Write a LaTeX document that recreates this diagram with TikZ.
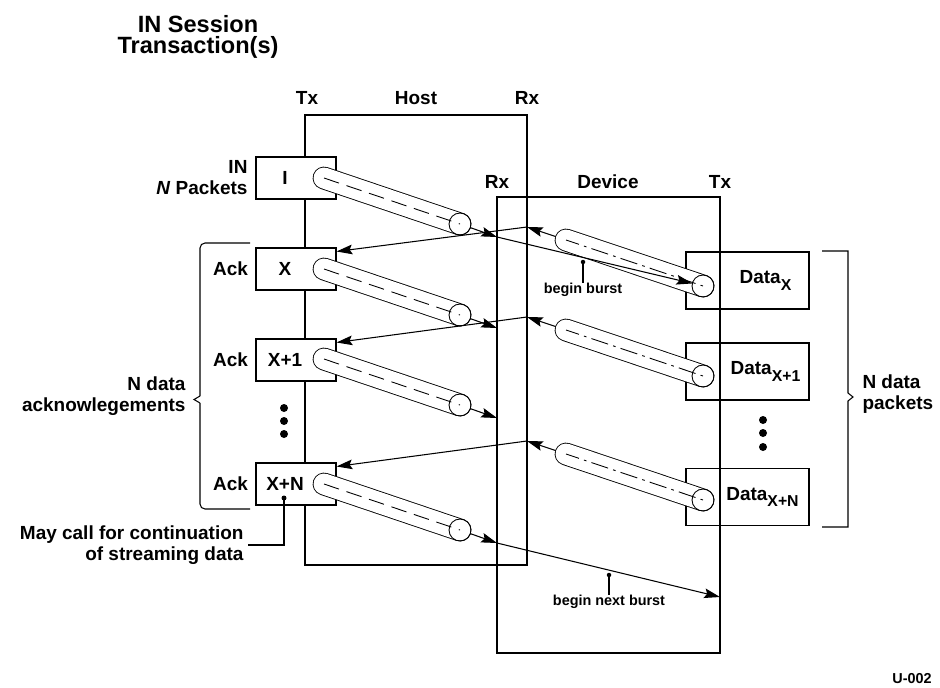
\documentclass[tikz,border=0pt]{standalone}
\usepackage{fontspec}
\setmainfont{Liberation Sans}
\usepackage{tikz}
\usetikzlibrary{calc,positioning,arrows.meta}

\newcommand{\pktsub}[1]{\raisebox{-3.5pt}{\fontsize{9}{9}\selectfont #1}}

\tikzset{
  lbl/.style={font=\fontsize{10.8}{12}\selectfont\bfseries, inner sep=0pt},
  titlelbl/.style={font=\fontsize{13.4}{14}\selectfont\bfseries, inner sep=0pt, anchor=base},
  burstlbl/.style={font=\fontsize{8.2}{9}\selectfont\bfseries, inner sep=0pt},
  hbox/.style={draw, fill=white, minimum width=1.6cm, minimum height=0.84cm, inner sep=0pt, font=\fontsize{10.8}{12}\selectfont\bfseries},
  dbox/.style={draw, minimum width=2.46cm, minimum height=1.14cm, inner sep=0pt, font=\fontsize{10.8}{12}\selectfont\bfseries},
  tube/.style={double distance=0.42cm, line width=0.5pt, line cap=round},
  hdash/.style={line width=0.5pt, dash pattern=on 9pt off 4.5pt},
  ddash/.style={line width=0.5pt, dash pattern=on 1.5pt off 3pt on 10pt off 3pt},
  arr/.style={-{Stealth[length=9pt,width=5.5pt,inset=1.5pt]}, line width=0.6pt},
}

\begin{document}
\begin{tikzpicture}[x=0.02cm, y=-0.02cm, line width=0.6pt]
    \useasboundingbox (0,0) rectangle (940,687);

    \node[titlelbl] (title) at (198,32) {IN Session};
    \node[titlelbl] (title2) at (198,53) {Transaction(s)};

    % host side
    \draw (305,115) rectangle (527,565);
    \node[lbl] (htx) at (307,98) {Tx};
    \node[lbl] (hname) at (416,98) {Host};
    \node[lbl] (hrx) at (527,98) {Rx};
    % device side
    \draw (497,197) rectangle (720,653);
    \node[lbl] (drx) at (497,182) {Rx};
    \node[lbl] (dname) at (608,182) {Device};
    \node[lbl] (dtx) at (720,182) {Tx};

    \node[hbox] (pI)  at (296,178) {I\kern0.44cm};
    \node[hbox] (pX)  at (296,269) {X\kern0.44cm};
    \node[hbox] (pX1) at (296,360) {X+1\kern0.44cm};
    \node[hbox] (pXN) at (296,484) {X+N\kern0.44cm};
    \node[lbl, anchor=east, align=right] (inlbl) at (248,178) {IN\\\textit{N} Packets};
    \foreach \n in {X,X1,XN}
        \node[lbl, anchor=east] (ack\n) at ($(p\n.west)+(-7,0)$) {Ack};

    \node[dbox] (dX)  at (747.5,280.5) {\kern0.72cm Data\pktsub{X}};
    \node[dbox] (dX1) at (747.5,371.5) {\kern0.72cm Data\pktsub{X+1}};
    \node[dbox] (dXN) at (747.5,497) {\kern0.6cm Data\pktsub{X+N}};

    \foreach \y in {408,421,434} \fill (284,\y) circle (0.08cm);
    \foreach \y in {420,433,447} \fill (763,\y) circle (0.08cm);

    % brackets
    \draw[rounded corners=0.1cm] (250,243) -- (200,243) -- (200,396);
    \draw (200,396) -- (194,399.5) -- (200,403);
    \draw[rounded corners=0.1cm] (200,403) -- (200,509) -- (250,509);
    \draw (822,251) -- (848,251) -- (848,393) -- (853,397) -- (848,401) -- (848,527) -- (822,527);
    \node[lbl, align=right, anchor=east] (nack) at (186,396) {N data\\acknowlegements};
    \node[lbl, align=left, anchor=west] (npkt) at (862,394) {N data\\packets};

    % host tubes
    \foreach \n/\y in {I/178,X/269,X1/359,XN/484}{
        \coordinate (hc\n) at (324,\y);
        \coordinate (he\n) at ($(hc\n)+(136,46)$);
        \coordinate (hr\n) at ($(hc\n)+(173,59)$);
        \draw[tube] (hc\n) -- (he\n);
        \draw[line width=0.5pt] (he\n) circle (0.22cm);
        \draw[hdash] (hc\n) -- (he\n);
        \draw[arr, shorten <=0.22cm] (he\n) -- (hr\n);
    }
    % device tubes
    \foreach \n/\y in {X/286,X1/376,XN/500}{
        \coordinate (de\n) at (703,\y);
        \coordinate (dc\n) at ($(de\n)-(137,46)$);
        \coordinate (dr\n) at ($(de\n)-(176,59)$);
        \draw[tube] (dc\n) -- (de\n);
        \draw[line width=0.5pt] (de\n) circle (0.22cm);
        \draw[ddash] (de\n) -- (dc\n);
        \draw[arr, shorten <=0.22cm] (dc\n) -- (dr\n);
        \draw[arr] (dr\n) -- ($(p\n.north east)+(0,4)$);
    }

    \coordinate (txN) at (720,597);
    \draw[arr, shorten >=0.22cm] (hrI) -- (deX);
    \draw[arr] (hrXN) -- (txN);

    \coordinate (bbdot) at (583,262);
    \node[burstlbl] (bb) at (583,290) {begin burst};
    \fill (bbdot) circle (0.045cm);
    \draw (bbdot) -- (bb.north);

    \coordinate (nbdot) at (609,575);
    \node[burstlbl] (nb) at (609,602) {begin next burst};
    \fill (nbdot) circle (0.045cm);
    \draw (nbdot) -- (nb.north);

    \node[lbl, align=right, anchor=east] (mcl) at (244,545) {May call for continuation\\of streaming data};
    \coordinate (mcdot) at (284,498);
    \fill (mcdot) circle (0.05cm);
    \draw (mcdot) |- ($(mcl.east)+(4,0)$);

    \node[burstlbl] (fig) at (912,679) {U-002};
\end{tikzpicture}
\end{document}
